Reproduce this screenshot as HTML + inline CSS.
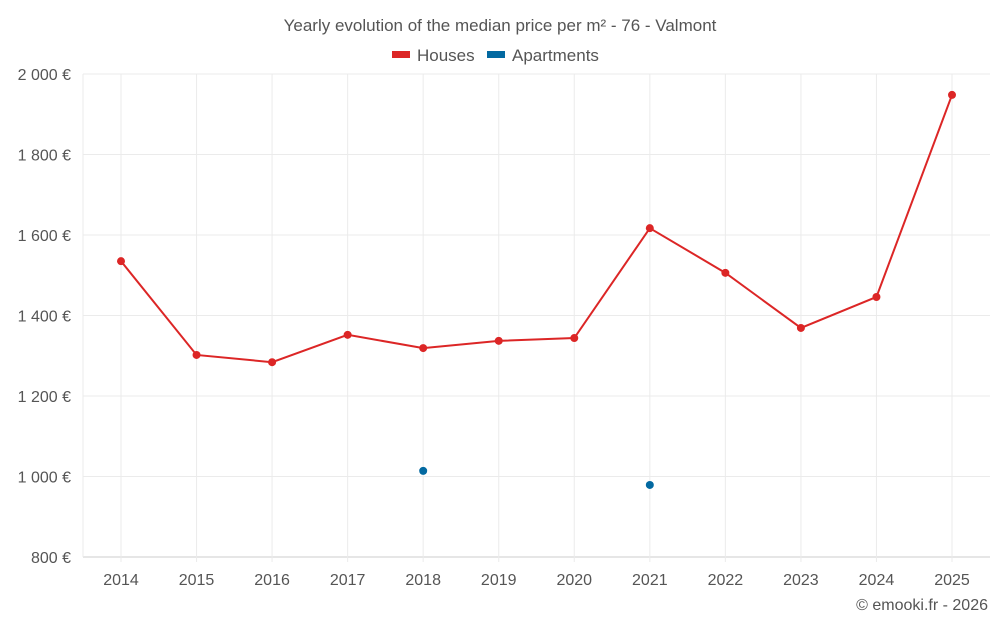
<!DOCTYPE html>
<html><head><meta charset="utf-8"><style>
body{margin:0;background:#fff;font-family:"Liberation Sans",sans-serif;}
svg text{font-family:"Liberation Sans",sans-serif;}
</style></head><body>
<svg id="chart" width="1000" height="625">
<text x="500" y="31" text-anchor="middle" font-size="17" fill="#555">Yearly evolution of the median price per m² - 76 - Valmont</text>
<g>
<g><rect x="392" y="51" width="18" height="7" fill="#dc2626"/><text x="417" y="61" font-size="17" fill="#555">Houses</text></g>
<g><rect x="487" y="51" width="18" height="7" fill="#0369a1"/><text x="512" y="61" font-size="17" fill="#555">Apartments</text></g>
</g>
<g id="grid"></g><g id="axes"></g><g id="series"></g>
<text x="988" y="610" text-anchor="end" font-size="16" fill="#555">© emooki.fr - 2026</text>
</svg>
<script>
const years=[2014,2015,2016,2017,2018,2019,2020,2021,2022,2023,2024,2025];
const houses=[1535,1302,1284,1352,1319,1337,1344,1617,1506,1369,1446,1948];
const apartments=[null,null,null,null,1014,null,null,979,null,null,null,null];
const yTicks=[800,1000,1200,1400,1600,1800,2000];
const yTickLabels=["800 €","1 000 €","1 200 €","1 400 €","1 600 €","1 800 €","2 000 €"];
const L=83,R=990,T=74,B=557;
const x=i=>121+i*(952-121)/(years.length-1);
const y=v=>B-(v-800)/(2000-800)*(B-T);
const NS="http://www.w3.org/2000/svg";
function mk(tag,attrs,parent){const e=document.createElementNS(NS,tag);for(const k in attrs)e.setAttribute(k,attrs[k]);document.getElementById(parent).appendChild(e);return e;}
yTicks.forEach((t,i)=>{
 const g=mk('line',{x1:L,x2:R,y1:y(t),y2:y(t),stroke:i===0?'#ccc':'#ebebeb'},'grid');
 
 
 const tx=mk('text',{x:71,y:y(t)+6,'text-anchor':'end','font-size':16,fill:'#555'},'axes');
 tx.textContent=yTickLabels[i];
 
 
});
mk('line',{x1:L,x2:L,y1:T,y2:B,stroke:'#ebebeb'},'grid');
years.forEach((yr,i)=>{
 const g=mk('line',{x1:x(i),x2:x(i),y1:T,y2:B+5,stroke:'#ebebeb'},'grid');
 
 
 const tx=mk('text',{x:x(i),y:585,'text-anchor':'middle','font-size':16,fill:'#555'},'axes');
 tx.textContent=yr;
 
 
});
const pl=mk('polyline',{points:houses.map((v,i)=>x(i)+','+y(v)).join(' '),fill:'none',stroke:'#dc2626','stroke-width':2},'series');


houses.forEach((v,i)=>{
 const c=mk('circle',{cx:x(i),cy:y(v),r:4,fill:'#dc2626'},'series');
 
 
});
apartments.forEach((v,i)=>{
 if(v==null)return;
 const c=mk('circle',{cx:x(i),cy:y(v),r:4,fill:'#0369a1'},'series');
 
 
});
</script>
</body></html>
